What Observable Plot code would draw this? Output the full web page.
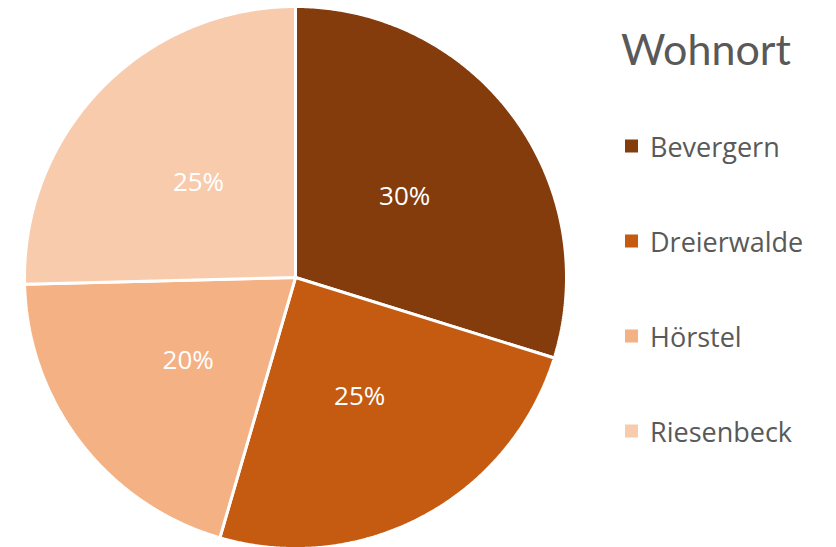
<!DOCTYPE html>
<html>
<head>
<meta charset="utf-8">
<script src="https://cdn.jsdelivr.net/npm/d3@7"></script>
<script src="https://cdn.jsdelivr.net/npm/@observablehq/plot@0.6"></script>
<style>
  html, body { margin: 0; padding: 0; background: #fff; }
  #wrap { position: relative; width: 836px; height: 547px; overflow: hidden; font-family: "Open Sans", Lato, sans-serif; }
  #chart { position: absolute; left: 0; top: 0; }
  #legend { position: absolute; left: 0; top: 0; width: 836px; height: 547px; pointer-events: none; color: #595959; }
  .title { position: absolute; left: 621px; top: 48px; transform: translateY(-50%); font-size: 43px; line-height: 1; font-family: Lato, sans-serif; }
  .item { position: absolute; left: 625px; transform: translateY(-50%); display: flex; align-items: center; font-size: 27px; line-height: 1; }
  .sw { width: 13px; height: 13px; margin-right: 12px; }
</style>
</head>
<body>
<div id="wrap">
  <div id="chart"></div>
  <div id="legend"></div>
</div>
<script>
const title = "Wohnort";
const categories = ["Bevergern", "Dreierwalde", "Hörstel", "Riesenbeck"];
const values = [29.8, 24.7, 20.1, 25.4];
const colors = ["#843C0C", "#C55A11", "#F4B183", "#F8CBAD"];
const labels = ["30%", "25%", "20%", "25%"];

// slices via d3.pie (clockwise from 12 o'clock)
const arcs = d3.pie().sort(null).value(d => d)(values);
const slices = [];
arcs.forEach((a, i) => {
  const n = 200;
  slices.push({cat: categories[i], x: 0, y: 0});
  for (let k = 0; k <= n; k++) {
    const t = a.startAngle + (a.endAngle - a.startAngle) * k / n;
    slices.push({cat: categories[i], x: Math.sin(t), y: Math.cos(t)});
  }
  slices.push({cat: categories[i], x: 0, y: 0});
});
const labelData = arcs.map((a, i) => {
  const m = (a.startAngle + a.endAngle) / 2;
  return {cat: categories[i], label: labels[i], x: 0.5 * Math.sin(m), y: 0.5 * Math.cos(m)};
});

const plot = Plot.plot({
  width: 836,
  height: 547,
  x: {domain: [-1, 1], range: [24, 566], axis: null},
  y: {domain: [-1, 1], range: [548, 6], axis: null},
  color: {domain: categories, range: colors},
  style: {fontFamily: "'Open Sans', Lato, sans-serif", background: "transparent"},
  marks: [
    Plot.line(slices, {x: "x", y: "y", z: "cat", fill: "cat", stroke: "white", strokeWidth: 3, strokeLinejoin: "miter", curve: "linear"}),
    Plot.text(labelData, {x: "x", y: "y", text: "label", fill: "white", fontSize: 26})
  ]
});
document.getElementById("chart").appendChild(plot);

const legend = document.getElementById("legend");
const t = document.createElement("div");
t.className = "title";
t.textContent = title;
legend.appendChild(t);
const rowY = [146, 241, 336, 431];
categories.forEach((c, i) => {
  const d = document.createElement("div");
  d.className = "item";
  d.style.top = rowY[i] + "px";
  const s = document.createElement("div");
  s.className = "sw";
  s.style.background = colors[i];
  const l = document.createElement("span");
  l.textContent = c;
  d.appendChild(s); d.appendChild(l);
  legend.appendChild(d);
});
</script>
</body>
</html>
